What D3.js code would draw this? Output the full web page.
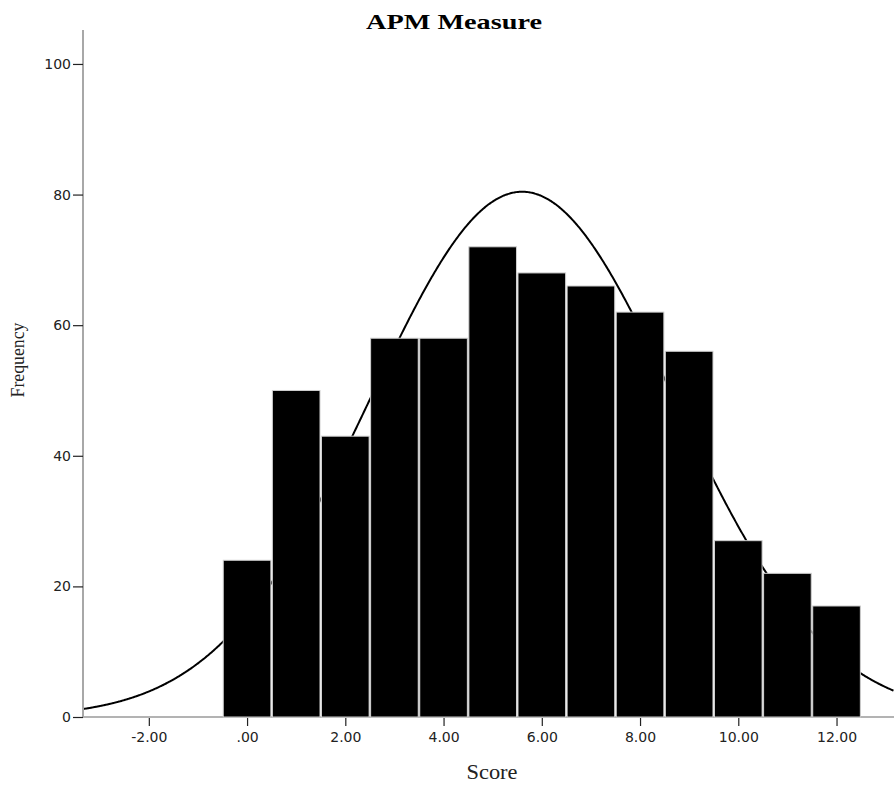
<!DOCTYPE html>
<html><head><meta charset="utf-8">
<script src="https://cdn.jsdelivr.net/npm/d3@7"></script>
<style>body{margin:0;background:#fff}svg{display:block}</style>
</head><body>
<svg id="c" width="894" height="787"></svg>
<script>
const binCenters = [0,1,2,3,4,5,6,7,8,9,10,11,12];
const frequencies = [24,50,43,58,58,72,68,66,62,56,27,22,17];
const xTicks = [-2,0,2,4,6,8,10,12];
const xTickLabels = ["-2.00",".00","2.00","4.00","6.00","8.00","10.00","12.00"];
const yTicks = [0,20,40,60,80,100];
const normalMean = 5.60, normalSD = 3.09, normalN = 623, binWidth = 1;

const svg = d3.select("#c");
const x = d3.scaleLinear().domain([-3.34, 13.17]).range([83, 894]);
const y = d3.scaleLinear().domain([0, 105.2]).range([717, 30]);

// x axis baseline
svg.append("line").attr("x1", 83).attr("x2", 894).attr("y1", y(0)).attr("y2", y(0))
  .attr("stroke", "#9a9a9a").attr("stroke-width", 1.5);

// normal curve (behind bars)
const dens = v => normalN*binWidth/(normalSD*Math.sqrt(2*Math.PI))*Math.exp(-((v-normalMean)**2)/(2*normalSD*normalSD));
const xs = d3.range(x.domain()[0], x.domain()[1], 0.02);
svg.append("path").datum(xs)
  .attr("d", d3.line().x(d => x(d)).y(d => y(dens(d))).curve(d3.curveBasis))
  .attr("fill", "none").attr("stroke", "#000").attr("stroke-width", 2);

// bars
svg.selectAll("rect.bar").data(binCenters).join("rect").attr("class", "bar")
  .attr("x", d => x(d - binWidth/2) + 0.75)
  .attr("width", d => x(d + binWidth/2) - x(d - binWidth/2) - 1.5)
  .attr("y", (d,i) => y(frequencies[i]))
  .attr("height", (d,i) => y(0) - y(frequencies[i]))
  .attr("fill", "#000").attr("stroke", "#cfcfcf").attr("stroke-width", 1);

// y axis
const yAxis = d3.axisLeft(y).tickValues(yTicks).tickSize(10).tickPadding(2).tickFormat(d3.format("d"));
const gy = svg.append("g").attr("transform", "translate(83,0)").call(yAxis);
gy.select(".domain").attr("stroke", "#a8a8a8").attr("stroke-width", 2).attr("d", `M0,${y(0)}V30`);
gy.selectAll(".tick line").attr("stroke", "#222").attr("stroke-width", 1.2);
gy.selectAll("text").attr("font-family", "DejaVu Sans").attr("font-size", 14).attr("fill", "#222");

// x axis
const xAxis = d3.axisBottom(x).tickValues(xTicks).tickSize(8).tickPadding(6)
  .tickFormat((d,i) => xTickLabels[i]);
const gx = svg.append("g").attr("transform", `translate(0,${y(0)+1})`).call(xAxis);
gx.select(".domain").remove();
gx.selectAll(".tick line").attr("stroke", "#222").attr("stroke-width", 1.2);
gx.selectAll("text").attr("font-family", "DejaVu Sans").attr("font-size", 14).attr("fill", "#222");

// titles
svg.append("text").attr("x", 454).attr("y", 29).attr("text-anchor", "middle")
  .attr("font-family", "Liberation Serif").attr("font-weight", "bold").attr("font-size", 22)
  .attr("textLength", 176).attr("lengthAdjust", "spacingAndGlyphs").text("APM Measure");
svg.append("text").attr("x", 492).attr("y", 779).attr("text-anchor", "middle")
  .attr("font-family", "Liberation Serif").attr("font-size", 21).attr("fill", "#222")
  .attr("textLength", 51).attr("lengthAdjust", "spacingAndGlyphs").text("Score");
svg.append("text").attr("transform", "translate(24,360) rotate(-90)").attr("text-anchor", "middle")
  .attr("font-family", "Liberation Serif").attr("font-size", 18).attr("fill", "#222")
  .attr("textLength", 75).attr("lengthAdjust", "spacingAndGlyphs").text("Frequency");
</script>
</body></html>
